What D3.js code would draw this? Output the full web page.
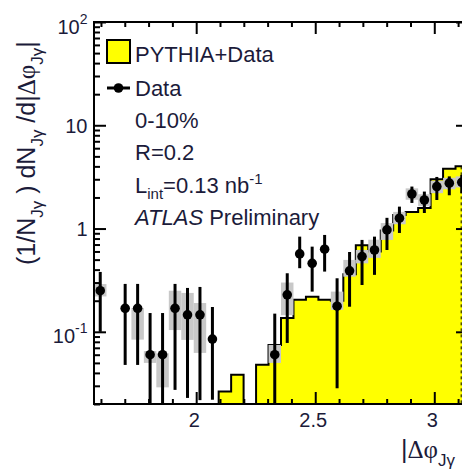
<!DOCTYPE html>
<meta charset="utf-8">
<style>
body { margin:0; background:white; }
svg { font-family:"Liberation Sans", Arial, sans-serif; background:white; }
.frame { fill:none; stroke:black; stroke-width:2; }
.axis path { display:none; }
.axis line { stroke:black; stroke-width:2; }
.lbl { fill:#1b1b3a; }
</style>
<script src="https://d3js.org/d3.v7.min.js"></script>
<body>
<script>

// bin edges of |dphi| (pi/2 .. pi, 30 bins)
var binEdges = [1.5708, 1.6232, 1.6755, 1.7279, 1.7802, 1.8326, 1.8850, 1.9373, 1.9897, 2.0420,
                2.0944, 2.1468, 2.1991, 2.2515, 2.3038, 2.3562, 2.4086, 2.4609, 2.5133, 2.5656,
                2.6180, 2.6704, 2.7227, 2.7751, 2.8274, 2.8798, 2.9322, 2.9845, 3.0369, 3.0892, 3.1416];

// PYTHIA+Data histogram, one value per bin (null = empty)
var pythia = [null, null, null, null, null, null, null, null, null, null,
              0.0264, 0.0383, null, 0.048, 0.0746, 0.136, 0.204, 0.219, 0.204, 0.20,
              0.36, 0.69, 0.60, 0.96, 1.35, 1.45, 1.58, 3.0, 3.8, 4.0];

// Data points and their stat error ends
var data  = [0.25, null, 0.169, 0.169, 0.06, 0.06, 0.169, 0.146, 0.146, 0.085,
             null, null, null, null, 0.06, 0.228, 0.568, 0.461, 0.631, 0.177,
             0.39, 0.535, 0.62, 0.97, 1.26, 2.16, 1.89, 2.55, 2.75, 2.8];
var errHi = [0.38, null, 0.291, 0.291, 0.152, 0.152, 0.291, 0.266, 0.272, 0.174,
             null, null, null, null, 0.15, 0.369, 0.835, 0.668, 0.867, 0.33,
             0.593, 0.776, 0.835, 1.27, 1.63, 2.55, 2.28, 3.16, 3.2, 3.3];
var errLo = [0.1, null, 0.0478, 0.0478, 0.01, 0.01, 0.0274, 0.0229, 0.0218, 0.022,
             null, null, null, null, 0.01, 0.078, 0.413, 0.245, 0.383, 0.0284,
             0.175, 0.284, 0.356, 0.62, 0.906, 1.77, 1.415, 1.89, 2.1, 2.2];

// systematic (grey boxes)
var sysHi = [0.29, null, null, 0.17, 0.065, 0.062, 0.25, 0.238, 0.19, null,
             null, null, null, null, 0.0746, 0.30, null, null, null, 0.245,
             0.497, 0.62, 0.78, 1.13, 1.45, 2.45, 2.15, 2.9, 3.1, 3.2];
var sysLo = [0.22, null, null, 0.084, 0.05, 0.029, 0.104, 0.0835, 0.0625, null,
             null, null, null, null, 0.05, 0.145, null, null, null, 0.163,
             0.342, 0.46, 0.52, 0.776, 1.1, 1.9, 1.65, 2.2, 2.4, 2.5];

var xMajor = [2, 2.5, 3];
var xLabels = ["2", "2.5", "3"];
var yMajor = [0.1, 1, 10, 100];
var yBase = ["10", "1", "10", "10"];
var yExp = ["-1", "", "", "2"];
var dashX = [3.113];

var W = 462, H = 475;

var svg = d3.select("body").append("svg")
    .attr("width", W)
    .attr("height", H);

var x = d3.scaleLinear().domain([binEdges[0], binEdges[binEdges.length - 1]]).range([94, 468]);
var y = d3.scaleLog().domain([0.02, 100]).range([404, 22]).clamp(true);

var bins = d3.range(pythia.length).map(function(i) {
  return {i: i, x0: binEdges[i], x1: binEdges[i + 1], xc: (binEdges[i] + binEdges[i + 1]) / 2,
          h: pythia[i], v: data[i], lo: errLo[i], hi: errHi[i], slo: sysLo[i], shi: sysHi[i]};
});

// histogram as steps
var steps = [];
bins.forEach(function(b) {
  var v = b.h == null ? 0.001 : b.h;
  steps.push([b.x0, v]);
  steps.push([b.x1, v]);
});
var area = d3.area().x(function(d) { return x(d[0]); }).y0(y.range()[0]).y1(function(d) { return y(d[1]); });
var line = d3.line().x(function(d) { return x(d[0]); }).y(function(d) { return y(d[1]); });

svg.append("path").datum(steps).attr("d", area).attr("fill", "#ffff00");
svg.append("path").datum(steps).attr("d", line).attr("fill", "none")
    .attr("stroke", "black").attr("stroke-width", 2);

// odd dashed line at the right edge
svg.selectAll(".dash").data(dashX).enter().append("line")
    .attr("x1", function(d) { return x(d); }).attr("x2", function(d) { return x(d); })
    .attr("y1", y(pythia[pythia.length - 1])).attr("y2", y.range()[0])
    .attr("stroke", "black").attr("stroke-width", 1).attr("stroke-dasharray", "3,3");

var pts = bins.filter(function(b) { return b.v != null; });

// grey systematic boxes
svg.selectAll(".sys").data(pts.filter(function(b) { return b.shi != null; })).enter().append("rect")
    .attr("x", function(b) { return x(b.x0); })
    .attr("width", function(b) { return x(b.x1) - x(b.x0); })
    .attr("y", function(b) { return y(b.shi); })
    .attr("height", function(b) { return y(b.slo) - y(b.shi); })
    .attr("fill", "#c8c8c8");

// error bars
svg.selectAll(".err").data(pts).enter().append("line")
    .attr("x1", function(b) { return x(b.xc); }).attr("x2", function(b) { return x(b.xc); })
    .attr("y1", function(b) { return y(b.hi); }).attr("y2", function(b) { return y(b.lo); })
    .attr("stroke", "black").attr("stroke-width", 3);

svg.selectAll(".dot").data(pts).enter().append("circle")
    .attr("cx", function(b) { return x(b.xc); })
    .attr("cy", function(b) { return y(b.v); })
    .attr("r", 4.8)
    .attr("fill", "black");

// axes, ticks inward
var yMinor = y.ticks().filter(function(d) { return yMajor.indexOf(d) < 0; });
var xMinor = x.ticks(16).filter(function(d) { return xMajor.indexOf(d) < 0; });

svg.append("g").attr("class", "axis").attr("transform", "translate(0,404)")
    .call(d3.axisBottom(x).tickValues(xMinor).tickSize(-5).tickFormat(""));
var xb = svg.append("g").attr("class", "axis").attr("transform", "translate(0,404)")
    .call(d3.axisBottom(x).tickValues(xMajor).tickSize(-12).tickPadding(9)
          .tickFormat(function(d, i) { return xLabels[i]; }));
xb.selectAll("text").attr("class", "lbl").attr("dx", -2.5).style("font-size", "20px")
    .style("font-family", "'Liberation Sans', Arial, sans-serif");

svg.append("g").attr("class", "axis").attr("transform", "translate(0,22)")
    .call(d3.axisTop(x).tickValues(xMinor).tickSize(-5).tickFormat(""));
svg.append("g").attr("class", "axis").attr("transform", "translate(0,22)")
    .call(d3.axisTop(x).tickValues(xMajor).tickSize(-12).tickFormat(""));

svg.append("g").attr("class", "axis").attr("transform", "translate(94,0)")
    .call(d3.axisLeft(y).tickValues(yMinor).tickSize(-6).tickFormat(""));
var yl = svg.append("g").attr("class", "axis").attr("transform", "translate(94,0)")
    .call(d3.axisLeft(y).tickValues(yMajor).tickSize(-12).tickFormat(""));
yl.selectAll(".tick text").each(function(d, i) {
  var t = d3.select(this).attr("class", "lbl")
      .attr("x", -6.5).attr("dy", null)
      .attr("y", yExp[i] ? 11 : 7)
      .style("font-size", "20px")
      .style("font-family", "'Liberation Sans', Arial, sans-serif")
      .attr("text-anchor", "end");
  t.append("tspan").text(yBase[i]);
  if (yExp[i]) t.append("tspan").attr("dy", -10).style("font-size", "14px").text(yExp[i]);
});

svg.append("g").attr("class", "axis").attr("transform", "translate(468,0)")
    .call(d3.axisRight(y).tickValues(yMinor).tickSize(-6).tickFormat(""));
svg.append("g").attr("class", "axis").attr("transform", "translate(468,0)")
    .call(d3.axisRight(y).tickValues(yMajor).tickSize(-12).tickFormat(""));

svg.append("rect").attr("class", "frame")
    .attr("x", 94).attr("y", 22).attr("width", 374).attr("height", 382);

// legend
var leg = svg.append("g").style("font-size", "22px");
leg.append("rect").attr("x", 107).attr("y", 40).attr("width", 23).attr("height", 23)
    .attr("fill", "#ffff00").attr("stroke", "black").attr("stroke-width", 2);
leg.append("text").attr("class", "lbl").attr("x", 135).attr("y", 62).text("PYTHIA+Data");
leg.append("line").attr("x1", 107).attr("x2", 130).attr("y1", 88).attr("y2", 88)
    .attr("stroke", "black").attr("stroke-width", 3);
leg.append("circle").attr("cx", 118.5).attr("cy", 88).attr("r", 4.8).attr("fill", "black");
leg.append("text").attr("class", "lbl").attr("x", 135).attr("y", 96).text("Data");
leg.append("text").attr("class", "lbl").attr("x", 135).attr("y", 128).text("0-10%");
leg.append("text").attr("class", "lbl").attr("x", 135).attr("y", 160).text("R=0.2");
var lt = leg.append("text").attr("class", "lbl").attr("x", 135).attr("y", 193);
lt.append("tspan").text("L");
lt.append("tspan").attr("dy", 6).style("font-size", "15px").text("int");
lt.append("tspan").attr("dy", -6).text("=0.13 nb");
lt.append("tspan").attr("dy", -9).style("font-size", "15px").text("-1");
var at = leg.append("text").attr("class", "lbl").attr("x", 135).attr("y", 225);
at.append("tspan").style("font-style", "italic").text("ATLAS");
at.append("tspan").text(" Preliminary");

// x title
var xt = svg.append("text").attr("class", "lbl").attr("x", 401).attr("y", 458).style("font-size", "25px");
xt.append("tspan").text("|");
xt.append("tspan").style("font-family", "'Liberation Serif', serif").text("\u0394\u03c6");
xt.append("tspan").attr("dy", 8).style("font-size", "17px").text("J\u03b3");

// y title
var yt = svg.append("text").attr("class", "lbl")
    .attr("transform", "translate(35,265) rotate(-90)")
    .style("font-size", "25px");
yt.append("tspan").text("(1/N");
yt.append("tspan").attr("dy", 8).style("font-size", "17px").text("J\u03b3");
yt.append("tspan").attr("dy", -8).text(" ) dN");
yt.append("tspan").attr("dy", 8).style("font-size", "17px").text("J\u03b3");
yt.append("tspan").attr("dy", -8).text(" /d|");
yt.append("tspan").style("font-family", "'Liberation Serif', serif").text("\u0394\u03c6");
yt.append("tspan").attr("dy", 8).style("font-size", "17px").text("J\u03b3");
yt.append("tspan").attr("dy", -8).text("|");

</script>
